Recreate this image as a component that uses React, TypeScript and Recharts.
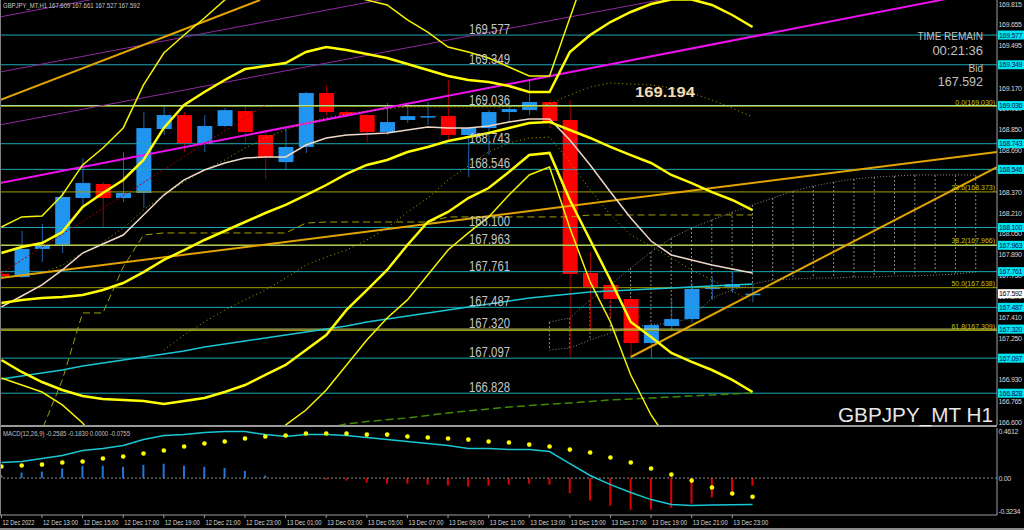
import React from 'react';
import { ComposedChart, Bar, Line, XAxis, YAxis, ReferenceLine, Cell } from 'recharts';

const AXIS_W = 27;
const MAIN_H = 425;
const X_DOMAIN: [number, number] = [-0.069, 49.04];
const PRICE_DOMAIN: [number, number] = [166.584, 169.846];
const MACD_DOMAIN: [number, number] = [-0.362, 0.4906];

// H1 bars, 12 Dec 11:00 -> 14 Dec 00:00
const opens = [167.745, 167.720, 167.935, 167.965, 168.326, 168.434, 168.326, 168.365, 168.856, 168.963, 168.741, 168.879, 168.994, 168.810, 168.602, 168.718, 169.132, 168.986, 168.963, 168.833, 168.925, 168.948, 168.955, 168.810, 168.863, 168.986, 169.001, 169.063, 168.925, 167.751, 167.659, 167.551, 167.213, 167.344, 167.397, 167.628, 167.643, 167.580];
const highs = [167.765, 168.073, 168.127, 168.387, 168.633, 168.449, 168.679, 168.986, 169.025, 168.986, 168.963, 169.017, 169.032, 168.848, 168.871, 169.140, 169.193, 169.000, 168.970, 169.055, 169.055, 169.063, 169.232, 168.870, 169.001, 169.055, 169.232, 169.078, 169.078, 167.912, 167.670, 167.560, 167.366, 167.559, 167.674, 167.720, 167.751, 167.661];
const lows = [167.700, 167.712, 167.835, 167.904, 168.272, 168.096, 168.295, 168.249, 168.810, 168.679, 168.679, 168.870, 168.748, 168.472, 168.549, 168.671, 168.960, 168.950, 168.756, 168.810, 168.902, 168.886, 168.756, 168.487, 168.656, 168.909, 168.963, 168.863, 167.100, 167.313, 167.405, 167.106, 167.098, 167.313, 167.367, 167.543, 167.597, 167.527];
const closes = [167.728, 167.935, 167.965, 168.334, 168.441, 168.326, 168.365, 168.863, 168.963, 168.748, 168.879, 169.001, 168.833, 168.641, 168.718, 169.132, 168.986, 168.963, 168.833, 168.909, 168.955, 168.955, 168.810, 168.863, 168.986, 169.009, 169.063, 168.917, 167.743, 167.643, 167.551, 167.213, 167.351, 167.397, 167.628, 167.643, 167.666, 167.592];

// indicators on the price pane
const maSlow = [166.937, 166.960, 166.983, 167.006, 167.037, 167.060, 167.083, 167.106, 167.129, 167.152, 167.183, 167.206, 167.229, 167.252, 167.275, 167.298, 167.321, 167.344, 167.375, 167.398, 167.421, 167.444, 167.467, 167.490, 167.513, 167.536, 167.559, 167.574, 167.590, 167.605, 167.613, 167.620, 167.628, 167.636, 167.643, 167.651, 167.659, 167.666];
const maFast = [167.490, 167.574, 167.659, 167.774, 167.904, 167.973, 168.042, 168.196, 168.349, 168.465, 168.541, 168.595, 168.633, 168.641, 168.641, 168.733, 168.787, 168.810, 168.817, 168.825, 168.848, 168.871, 168.863, 168.863, 168.879, 168.910, 168.933, 168.933, 168.771, 168.580, 168.372, 168.173, 167.996, 167.889, 167.851, 167.812, 167.781, 167.751];
const bbUpper = [167.904, 167.950, 167.981, 168.065, 168.257, 168.365, 168.465, 168.618, 168.864, 169.040, 169.140, 169.232, 169.316, 169.339, 169.362, 169.447, 169.485, 169.462, 169.432, 169.401, 169.355, 169.309, 169.263, 169.232, 169.217, 169.186, 169.140, 169.140, 169.447, 169.577, 169.677, 169.754, 169.815, 169.850, 169.850, 169.808, 169.731, 169.639];
const bbMiddle = [167.520, 167.544, 167.559, 167.567, 167.582, 167.620, 167.674, 167.758, 167.851, 167.927, 168.004, 168.073, 168.142, 168.211, 168.273, 168.349, 168.426, 168.511, 168.580, 168.618, 168.679, 168.718, 168.764, 168.795, 168.825, 168.864, 168.902, 168.910, 168.848, 168.787, 168.718, 168.656, 168.595, 168.503, 168.441, 168.372, 168.311, 168.234];
const bbLower = [167.083, 166.991, 166.914, 166.853, 166.807, 166.784, 166.776, 166.768, 166.745, 166.768, 166.791, 166.837, 166.891, 166.968, 167.045, 167.160, 167.275, 167.467, 167.620, 167.774, 167.966, 168.142, 168.219, 168.326, 168.403, 168.526, 168.656, 168.672, 168.311, 168.004, 167.697, 167.375, 167.260, 167.137, 167.068, 167.006, 166.930, 166.837];
const bandUpper = [168.104, 168.181, 168.188, 168.349, 168.580, 168.710, 168.864, 169.194, 169.439, 169.577, 169.708, 169.846, 170.000, 170.076, 170.076, 170.038, 169.961, 169.884, 169.846, 169.808, 169.693, 169.600, 169.485, 169.447, 169.401, 169.332, 169.263, 169.263, 169.708, 170.153, 170.383, 170.537, 170.614, 170.614, 170.575, 170.537, 170.498, 170.460];
const bandLower = [166.945, 166.891, 166.837, 166.738, 166.600, 166.392, 166.162, 166.008, 165.855, 165.779, 165.779, 165.855, 166.008, 166.315, 166.584, 166.699, 166.853, 167.045, 167.237, 167.405, 167.544, 167.735, 167.927, 168.058, 168.181, 168.349, 168.503, 168.564, 168.096, 167.682, 167.375, 166.968, 166.661, 166.431, 166.239, 166.162, 166.085, 166.047];
const dotUpper = [167.720, 167.728, 167.751, 167.812, 167.904, 167.989, 168.096, 168.234, 168.349, 168.449, 168.541, 168.618, 168.710, 168.787, 168.848, 168.902, 168.940, 168.971, 168.994, 169.009, 169.025, 169.025, 169.025, 169.025, 169.025, 169.025, 169.025, 169.048, 169.117, 169.178, 169.209, 169.201, 169.194, 169.171, 169.132, 169.078, 169.017, 168.948];
const DOT_LOWER_START = 8;
const dotLower = [167.160, 167.275, 167.375, 167.467, 167.544, 167.620, 167.712, 167.812, 167.873, 167.927, 168.004, 168.096, 168.219, 168.326, 168.465, 168.572, 168.679, 168.748, 168.787, 168.794, 168.603, 168.388, 168.196, 168.042, 167.958, 167.866, 167.774, 167.697, 167.613, 167.528];
const kijun = [166.546, 166.546, 166.546, 166.930, 167.444, 167.444, 167.797, 168.042, 168.058, 168.058, 168.058, 168.058, 168.058, 168.058, 168.058, 168.134, 168.142, 168.142, 168.142, 168.142, 168.142, 168.142, 168.181, 168.181, 168.181, 168.181, 168.181, 168.181, 168.181, 168.196, 168.196, 168.196, 168.196, 168.196, 168.196, 168.196, 168.196, 168.196];
const GREEN_START = 16;
const greenDash = [166.560, 166.592, 166.610, 166.625, 166.638, 166.657, 166.676, 166.692, 166.707, 166.722, 166.733, 166.743, 166.753, 166.765, 166.776, 166.784, 166.792, 166.799, 166.807, 166.815, 166.822, 166.830];
const CLOUD_START = 27;
const cloudUpper = [167.375, 167.405, 167.544, 167.659, 167.789, 167.912, 168.019, 168.096, 168.158, 168.219, 168.273, 168.326, 168.380, 168.418, 168.449, 168.472, 168.487, 168.495, 168.503, 168.503, 168.503, 168.503];
const cloudLower = [167.160, 167.175, 167.237, 167.290, 167.329, 167.352, 167.367, 167.405, 167.559, 167.620, 167.666, 167.697, 167.705, 167.712, 167.712, 167.720, 167.720, 167.728, 167.728, 167.735, 167.743, 167.758];

// MACD(12,26,9)
const macdMain = [0.152, 0.162, 0.191, 0.221, 0.270, 0.289, 0.319, 0.377, 0.417, 0.426, 0.446, 0.456, 0.456, 0.426, 0.407, 0.426, 0.426, 0.417, 0.397, 0.377, 0.358, 0.338, 0.319, 0.289, 0.289, 0.279, 0.279, 0.260, 0.142, 0.025, -0.064, -0.142, -0.211, -0.260, -0.270, -0.265, -0.262, -0.2585];
const macdSignal = [0.113, 0.123, 0.132, 0.152, 0.162, 0.191, 0.211, 0.240, 0.270, 0.309, 0.338, 0.358, 0.387, 0.407, 0.417, 0.436, 0.436, 0.436, 0.426, 0.426, 0.407, 0.397, 0.387, 0.377, 0.358, 0.348, 0.328, 0.309, 0.279, 0.250, 0.201, 0.152, 0.093, 0.034, -0.025, -0.093, -0.152, -0.183];
const macdHist = [0.03, 0.054, 0.064, 0.093, 0.12, 0.12, 0.11, 0.13, 0.14, 0.12, 0.11, 0.10, 0.07, 0.025, -0.005, 0.003, -0.015, -0.025, -0.045, -0.055, -0.055, -0.065, -0.075, -0.085, -0.075, -0.065, -0.055, -0.065, -0.15, -0.22, -0.27, -0.31, -0.31, -0.29, -0.25, -0.19, -0.13, -0.0755];

const timeLabels = ['12 Dec 2022', '12 Dec 13:00', '12 Dec 15:00', '12 Dec 17:00', '12 Dec 19:00', '12 Dec 21:00', '12 Dec 23:00', '13 Dec 01:00', '13 Dec 03:00', '13 Dec 05:00', '13 Dec 07:00', '13 Dec 09:00', '13 Dec 11:00', '13 Dec 13:00', '13 Dec 15:00', '13 Dec 17:00', '13 Dec 19:00', '13 Dec 21:00', '13 Dec 23:00'];
const timeTicks = timeLabels.map((_, k) => k * 2);
// scale labels that are not fully hidden behind the line tags
const priceTicks = [169.815, 169.655, 169.495, 169.170, 169.010, 168.850, 168.690, 168.370, 168.210, 168.050, 167.890, 167.730, 167.570, 167.410, 167.250, 166.930, 166.765, 166.600];
const macdTicks = [0.4612, 0, -0.3234];
const macdTickText = ['0.4612', '0.00', '-0.3234'];

const CYAN = '#1ca8b4';
const hLines = [
  { p: 169.577, color: CYAN },
  { p: 169.349, color: CYAN },
  { p: 169.036, color: '#a2e8a0' },
  { p: 168.743, color: CYAN },
  { p: 168.546, color: CYAN },
  { p: 168.100, color: CYAN },
  { p: 167.963, color: '#b8e47c' },
  { p: 167.761, color: CYAN },
  { p: 167.487, color: CYAN },
  { p: 167.320, color: '#d2dc6c' },
  { p: 167.097, color: CYAN },
  { p: 166.828, color: CYAN },
];
const fibLevels = [
  { p: 169.030, text: '0.0(169.030)' },
  { p: 168.373, text: '23.6(168.373)' },
  { p: 167.966, text: '38.2(167.966)' },
  { p: 167.638, text: '50.0(167.638)' },
  { p: 167.309, text: '61.8(167.309)' },
];
const bidPrice = 167.592;

// hand-drawn trend lines: [bar1, price1, bar2, price2]
const trendLines = [
  { a: [-0.07, 169.716, 49.04, 171.166], color: '#8e2a9e', w: 1 },
  { a: [-0.07, 169.293, 49.04, 170.744], color: '#8e2a9e', w: 1 },
  { a: [-0.07, 168.887, 49.04, 170.337], color: '#8e2a9e', w: 1 },
  { a: [-0.07, 168.441, 49.04, 169.930], color: '#ee10ee', w: 2 },
  { a: [-0.07, 169.078, 12.74, 169.846], color: '#e2a400', w: 2 },
  { a: [-0.07, 167.712, 49.04, 168.680], color: '#e2a400', w: 2 },
  { a: [31, 167.106, 49.04, 168.564], color: '#e2a400', w: 2 },
];
const redTrend = [0, 167.751, 13, 169.040];

const rows = Array.from({ length: 49 }, (_, i) => ({
  i,
  o: opens[i],
  h: highs[i],
  l: lows[i],
  c: closes[i],
  maSlow: maSlow[i],
  maFast: maFast[i],
  bbU: bbUpper[i],
  bbM: bbMiddle[i],
  bbL: bbLower[i],
  bandU: bandUpper[i],
  bandL: bandLower[i],
  dotU: dotUpper[i],
  dotL: dotLower[i - DOT_LOWER_START],
  kijun: kijun[i],
  green: greenDash[i - GREEN_START],
  ca: cloudUpper[i - CLOUD_START],
  cb: cloudLower[i - CLOUD_START],
}));

const macdRows = macdMain.map((m, i) => ({ i, m, s: macdSignal[i], h: macdHist[i] }));

const layer: React.CSSProperties = { position: 'absolute', left: 0, top: 0 };
const FONT = 'Liberation Sans, Arial, sans-serif';

const Candle = (p: any) => {
  const r = p.payload;
  if (!r || r.o == null || p.height == null) return null;
  const top = Math.min(p.y, p.y + p.height);
  const hgt = Math.abs(p.height);
  const span = r.h - r.l || 0.0001;
  const py = (v: number) => top + ((r.h - v) / span) * hgt;
  const up = r.c >= r.o;
  const b1 = py(Math.max(r.o, r.c));
  const b2 = py(Math.min(r.o, r.c));
  const cx = p.x + p.width / 2;
  return (
    <g>
      <line x1={cx} x2={cx} y1={top} y2={top + hgt} stroke={up ? '#1c64ad' : '#a30000'} strokeWidth={1} />
      <rect x={p.x} y={b1} width={p.width} height={Math.max(1.5, b2 - b1)} fill={up ? '#2194f0' : '#ff0000'} />
    </g>
  );
};

const CloudTick = (p: any) => {
  const r = p.payload;
  if (!r || r.ca == null || p.height == null) return null;
  const top = Math.min(p.y, p.y + p.height);
  const cx = p.x + p.width / 2;
  return <line x1={cx} x2={cx} y1={top} y2={top + Math.abs(p.height)} stroke="#8a8a8a" strokeDasharray="2 2" />;
};

const PriceTick = (p: any) => (
  <text x={998.5} y={p.y + 2.5} fill="#d6d6d6" fontSize={7} letterSpacing={-0.3} fontFamily={FONT}>
    {Number(p.payload.value).toFixed(3)}
  </text>
);

const MacdTick = (p: any) => {
  const k = macdTicks.indexOf(p.payload.value);
  const t = macdTickText[k] ?? String(p.payload.value);
  return (
    <text x={998.5} y={p.y + 2.5} fill="#d6d6d6" fontSize={7} letterSpacing={-0.3} fontFamily={FONT}>
      {t}
    </text>
  );
};

const TimeTick = (p: any) => {
  const k = Math.round(p.payload.value / 2);
  return (
    <text x={p.x + 1} y={p.y + 5} fill="#d6d6d6" fontSize={8} fontFamily={FONT} textLength={k === 0 ? 32 : 35} lengthAdjust="spacingAndGlyphs">
      {timeLabels[k]}
    </text>
  );
};

const lineTag = (price: number, boxFill: string, textFill: string, mid: boolean) => (props: any) => {
  const vb = props.viewBox || {};
  const y = vb.y;
  const right = vb.x + vb.width;
  const t = price.toFixed(3);
  return (
    <g>
      {mid && (
        <text x={469} y={y - 1} fill="#c6c6c6" fontSize={14} fontFamily={FONT} textLength={41} lengthAdjust="spacingAndGlyphs">
          {t}
        </text>
      )}
      <rect x={right + 1} y={y - 4.5} width={26} height={9} fill={boxFill} />
      <text x={right + 2} y={y + 2.5} fill={textFill} fontSize={7} letterSpacing={-0.3} fontFamily={FONT}>
        {t}
      </text>
    </g>
  );
};

const fibTag = (text: string) => (props: any) => {
  const vb = props.viewBox || {};
  return (
    <text x={vb.x + vb.width - 2} y={vb.y - 1.5} textAnchor="end" fill="#c4c400" fontSize={7} fontFamily={FONT}>
      {text}
    </text>
  );
};

function PricePane({ children, axis = false }: { children: React.ReactNode; axis?: boolean }) {
  return (
    <div style={layer}>
      <ComposedChart width={1024} height={MAIN_H} data={rows} margin={{ top: 0, right: axis ? 0 : AXIS_W, bottom: 0, left: 0 }}>
        <XAxis dataKey="i" type="number" domain={X_DOMAIN} allowDataOverflow hide />
        {axis ? (
          <YAxis
            orientation="right"
            width={AXIS_W}
            type="number"
            domain={PRICE_DOMAIN}
            allowDataOverflow
            ticks={priceTicks}
            interval={0}
            tick={PriceTick}
            tickLine={false}
            axisLine={{ stroke: '#a0a0a0' }}
          />
        ) : (
          <YAxis hide type="number" domain={PRICE_DOMAIN} allowDataOverflow />
        )}
        {children}
      </ComposedChart>
    </div>
  );
}

export default function App() {
  const thick = (key: string) => (
    <Line key={key} type="linear" dataKey={key} stroke="#ffff00" strokeWidth={2.5} dot={false} isAnimationActive={false} />
  );
  return (
    <div style={{ ...layer, width: 1024, height: 530, background: '#000', overflow: 'hidden', fontFamily: FONT }}>
      {/* ichimoku cloud */}
      <PricePane>
        <Bar dataKey={(r: any) => (r.ca == null ? null : [r.cb, r.ca])} barSize={2} shape={CloudTick} isAnimationActive={false} />
        <Line type="linear" dataKey="ca" stroke="#8a8a8a" strokeDasharray="1 2" dot={false} isAnimationActive={false} />
        <Line type="linear" dataKey="cb" stroke="#8a8a8a" strokeDasharray="1 2" dot={false} isAnimationActive={false} />
      </PricePane>

      {/* candles */}
      <PricePane>
        <Bar dataKey={(r: any) => (r.o == null ? null : [r.l, r.h])} barSize={15} shape={Candle} isAnimationActive={false} />
      </PricePane>

      {/* objects + indicators */}
      <PricePane axis>
        {fibLevels.map((f) => (
          <ReferenceLine key={'f' + f.p} y={f.p} stroke="#a0a000" strokeWidth={1} />
        ))}
        {hLines.map((h) => (
          <ReferenceLine key={'h' + h.p} y={h.p} stroke={h.color} strokeWidth={1} />
        ))}
        {trendLines.map((t, k) => (
          <ReferenceLine
            key={'t' + k}
            segment={[{ x: t.a[0], y: t.a[1] }, { x: t.a[2], y: t.a[3] }]}
            stroke={t.color}
            strokeWidth={t.w}
            ifOverflow="hidden"
          />
        ))}
        <ReferenceLine
          segment={[{ x: redTrend[0], y: redTrend[1] }, { x: redTrend[2], y: redTrend[3] }]}
          stroke="#a00000"
          strokeDasharray="2 2"
          ifOverflow="hidden"
        />
        <Line type="linear" dataKey="green" stroke="#3f8a00" strokeWidth={1.5} strokeDasharray="8 4" dot={false} isAnimationActive={false} />
        <Line type="linear" dataKey="kijun" stroke="#a0a000" strokeWidth={1} strokeDasharray="7 4" dot={false} isAnimationActive={false} />
        <Line type="linear" dataKey="dotU" stroke="#a8a800" strokeWidth={1} strokeDasharray="1 3" dot={false} isAnimationActive={false} />
        <Line type="linear" dataKey="dotL" stroke="#a8a800" strokeWidth={1} strokeDasharray="1 3" dot={false} isAnimationActive={false} />
        <Line type="linear" dataKey="maSlow" stroke="#19c6d4" strokeWidth={1.5} dot={false} isAnimationActive={false} />
        <Line type="linear" dataKey="maFast" stroke="#f0d8c8" strokeWidth={1.5} dot={false} isAnimationActive={false} />
        <Line type="linear" dataKey="bandU" stroke="#f4f400" strokeWidth={1.5} dot={false} isAnimationActive={false} />
        <Line type="linear" dataKey="bandL" stroke="#f4f400" strokeWidth={1.5} dot={false} isAnimationActive={false} />
        {thick('bbU')}
        {thick('bbM')}
        {thick('bbL')}
      </PricePane>

      {/* labels on lines and price scale */}
      <PricePane>
        {fibLevels.map((f) => (
          <ReferenceLine key={'fl' + f.p} y={f.p} stroke="none" label={fibTag(f.text)} />
        ))}
        {hLines.map((h) => (
          <ReferenceLine key={'hl' + h.p} y={h.p} stroke="none" label={lineTag(h.p, '#00e6f0', '#0a0a50', true)} />
        ))}
        <ReferenceLine y={bidPrice} stroke="none" label={lineTag(bidPrice, '#ffffff', '#000000', false)} />
      </PricePane>

      {/* MACD window */}
      <div style={{ ...layer, top: 428 }}>
        <ComposedChart width={1024} height={102} data={macdRows} margin={{ top: 0, right: 0, bottom: 0, left: 0 }}>
          <XAxis
            dataKey="i"
            type="number"
            domain={X_DOMAIN}
            allowDataOverflow
            ticks={timeTicks}
            interval={0}
            tick={TimeTick}
            tickSize={3}
            tickLine={{ stroke: '#a0a0a0' }}
            axisLine={{ stroke: '#a0a0a0' }}
            height={15}
          />
          <YAxis
            orientation="right"
            width={AXIS_W}
            type="number"
            domain={MACD_DOMAIN}
            allowDataOverflow
            ticks={macdTicks}
            interval={0}
            tick={MacdTick}
            tickLine={false}
            axisLine={{ stroke: '#a0a0a0' }}
          />
          <ReferenceLine y={0} stroke="#8c8c8c" strokeDasharray="2 2" />
          <Bar dataKey="h" barSize={2} isAnimationActive={false}>
            {macdRows.map((r) => (
              <Cell key={r.i} fill={r.h >= 0 ? '#1e78dc' : '#e00000'} />
            ))}
          </Bar>
          <Line type="linear" dataKey="m" stroke="#19c6d4" strokeWidth={1.5} dot={false} isAnimationActive={false} />
          <Line type="linear" dataKey="s" stroke="none" dot={{ r: 2.3, fill: '#ffff00', stroke: 'none' }} isAnimationActive={false} />
        </ComposedChart>
      </div>

      {/* window frame */}
      <div style={{ ...layer, top: 425, width: 997, height: 2, background: '#9a9a9a' }} />
      <div style={{ ...layer, width: 1, height: 515, background: '#808080' }} />
      <div style={{ ...layer, top: 528, width: 1024, height: 2, background: '#8a8a8a' }} />

      {/* text objects */}
      <svg width={1024} height={530} style={{ ...layer, pointerEvents: 'none' }}>
        <text x={3} y={8} fill="#c8c8c8" fontSize={8} fontFamily={FONT} textLength={137} lengthAdjust="spacingAndGlyphs">
          GBPJPY_MT,H1 167.609 167.661 167.527 167.592
        </text>
        <text x={983} y={39.5} textAnchor="end" fill="#c0c0c0" fontSize={10} fontFamily={FONT}>TIME REMAIN</text>
        <text x={983} y={55} textAnchor="end" fill="#c0c0c0" fontSize={13} fontFamily={FONT}>00:21:36</text>
        <text x={983} y={72.3} textAnchor="end" fill="#c0c0c0" fontSize={10} fontFamily={FONT}>Bid</text>
        <text x={983} y={86} textAnchor="end" fill="#c0c0c0" fontSize={12.5} fontFamily={FONT}>167.592</text>
        <text x={635} y={97} fill="#f2dcb4" fontSize={15} fontWeight="bold" fontFamily={FONT} textLength={60} lengthAdjust="spacingAndGlyphs">169.194</text>
        <text x={838} y={422} fill="#e6e6e6" fontSize={19.5} fontFamily={FONT} textLength={155} lengthAdjust="spacingAndGlyphs">GBPJPY_MT H1</text>
        <text x={3} y={436} fill="#c0c0c0" fontSize={8} fontFamily={FONT} textLength={127} lengthAdjust="spacingAndGlyphs">
          MACD(12,26,9) -0.2585 -0.1830 0.0000 -0.0755
        </text>
      </svg>
    </div>
  );
}
